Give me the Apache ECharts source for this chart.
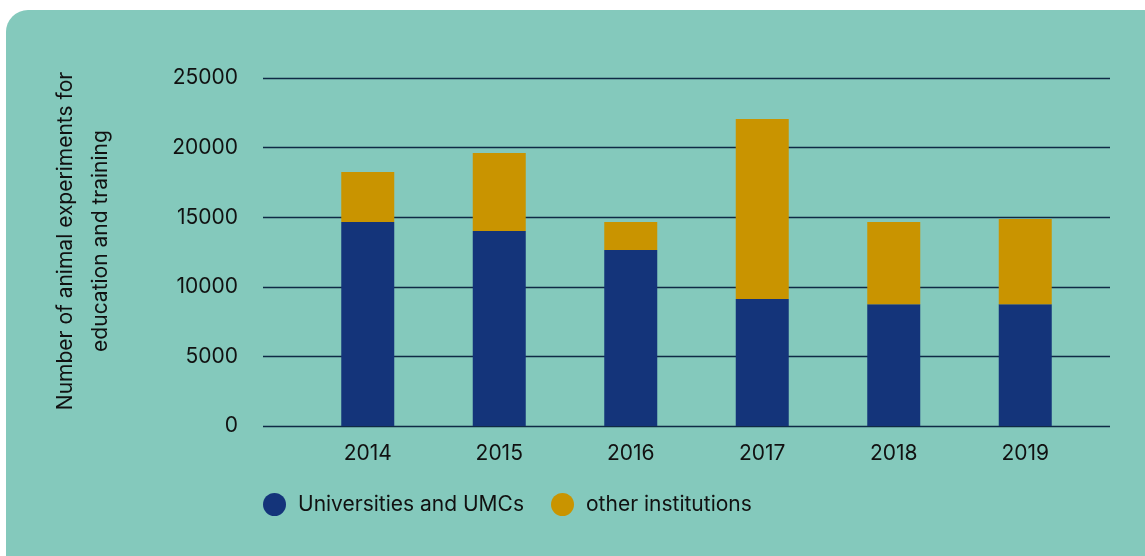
<!DOCTYPE html>
<html>
<head>
<meta charset="utf-8">
<script src="https://cdn.jsdelivr.net/npm/echarts@6/dist/echarts.min.js"></script>
<style>
  html, body { margin:0; padding:0; background:#ffffff; }
  #bg { position:absolute; left:6px; top:10px; width:1160px; height:570px; background:#84C9BC; border-radius:22px; }
  #chart { position:absolute; left:0; top:0; width:1145px; height:556px; }
</style>
</head>
<body>
<div id="bg"></div>
<div id="chart"></div>
<script>
const years = ['2014', '2015', '2016', '2017', '2018', '2019'];
const universities = [14650, 14000, 12640, 9120, 8750, 8750];
const otherInstitutions = [3600, 5620, 2010, 12940, 5900, 6120];
const seriesNames = ['Universities and UMCs', 'other institutions'];
const yTitle = 'Number of animal experiments for\neducation and training';

const chart = echarts.init(document.getElementById('chart'), null, { renderer: 'canvas' });
const font = 'Inter';
const fs = 21;
const option = {
  backgroundColor: 'transparent',
  textStyle: { fontFamily: font },
  graphic: [{
    type: 'text', x: 83, y: 241, rotation: Math.PI / 2,
    style: {
      text: yTitle, fill: '#111111', font: fs + 'px ' + font,
      align: 'center', verticalAlign: 'middle', lineHeight: 35
    }
  }],
  grid: [
    { left: 263, right: 35, top: 78, bottom: 130 },
    { left: 302, right: 54, top: 78, bottom: 130 }
  ],
  xAxis: [
    { type: 'value', gridIndex: 0, min: 0, max: 1, show: false },
    {
      type: 'category', gridIndex: 1, data: years,
      axisLine: { show: false }, axisTick: { show: false },
      axisLabel: { color: '#111111', fontSize: fs, fontFamily: font, margin: 17 }
    }
  ],
  yAxis: [
    {
      type: 'value', gridIndex: 0, min: 0, max: 25000, interval: 5000,
      axisLine: { show: false }, axisTick: { show: false },
      axisLabel: { color: '#111111', fontSize: fs, fontFamily: font, margin: 25, formatter: v => String(v) },
      splitLine: { show: true, lineStyle: { color: '#0f2a45', width: 1.4 } }
    },
    { type: 'value', gridIndex: 1, min: 0, max: 25000, interval: 5000, show: false }
  ],
  legend: {
    left: 263, top: 493, padding: 0, icon: 'circle', itemWidth: 23, itemHeight: 23, itemGap: 27,
    textStyle: { color: '#111111', fontSize: fs, fontFamily: font, padding: [0, 0, 0, 7] },
    data: seriesNames
  },
  series: [
    {
      name: seriesNames[0], type: 'bar', stack: 'total', xAxisIndex: 1, yAxisIndex: 1,
      data: universities, barWidth: 53, itemStyle: { color: '#14347A' }, z: 3
    },
    {
      name: seriesNames[1], type: 'bar', stack: 'total', xAxisIndex: 1, yAxisIndex: 1,
      data: otherInstitutions, barWidth: 53, itemStyle: { color: '#C99400' }, z: 3
    }
  ],
  animation: false
};
chart.setOption(option);
</script>
</body>
</html>
